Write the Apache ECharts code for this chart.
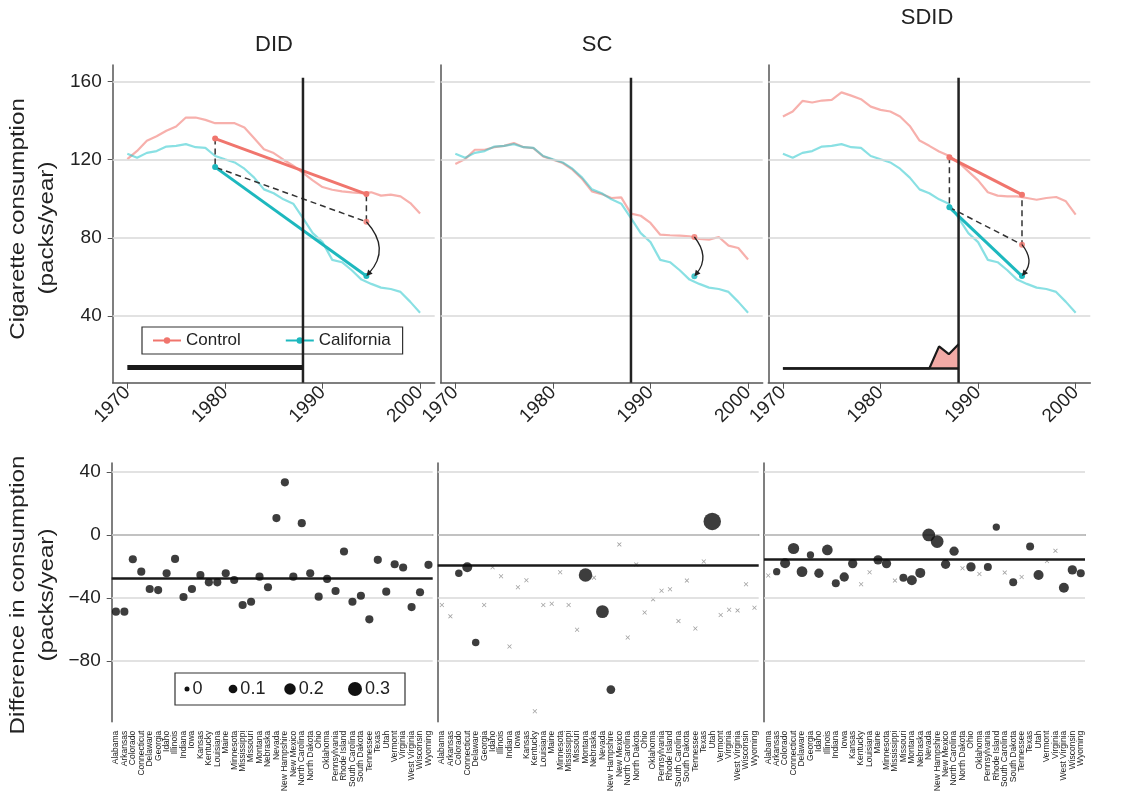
<!DOCTYPE html>
<html>
<head>
<meta charset="utf-8">
<script src="https://cdn.jsdelivr.net/npm/echarts@6/dist/echarts.min.js"></script>
<style>
html, body { margin: 0; background: #fff; }
#chart { width: 1121px; height: 807px; }
</style>
</head>
<body>
<div id="chart"></div>
<script>
// ---- top row: yearly consumption ----
var years = [1970, 1971, 1972, 1973, 1974, 1975, 1976, 1977, 1978, 1979, 1980, 1981, 1982, 1983, 1984, 1985,
  1986, 1987, 1988, 1989, 1990, 1991, 1992, 1993, 1994, 1995, 1996, 1997, 1998, 1999, 2000];
var california = [123, 121, 123.5, 124.4, 126.7, 127.1, 128, 126.4, 126.1, 121.9, 120.2, 118.6, 115.4, 110.8, 104.8, 102.8,
  99.7, 97.5, 90.1, 82.4, 77.8, 68.7, 67.5, 63.4, 58.6, 56.4, 54.5, 53.8, 52.3, 47.2, 41.6];
var didControl = [120.3, 124.5, 129.7, 132, 134.8, 137, 141.6, 141.6, 140.4, 138.7, 138.7, 138.7, 136.5, 131, 125.4, 123.4,
  120, 116.9, 113.2, 109.4, 106, 104.6, 103.8, 103.3, 102.9, 103.3, 101.6, 102.1, 101.2, 97.8, 92.4];
var scControl = [117.8, 120.3, 125.1, 125.1, 126.4, 127.1, 128.5, 126.4, 125.9, 121.7, 120, 118.3, 114.9, 110.1, 103.8, 102.4,
  100.4, 100.7, 92.4, 91.3, 87.6, 81.6, 81.3, 81.1, 80.8, 79.4, 79.1, 80.4, 76, 74.8, 68.9];
var sdidControl = [142.1, 144.7, 150.1, 149.3, 150.3, 150.6, 154.5, 152.8, 151, 147.2, 145.5, 144.7, 142.1, 137.3, 129.8, 127.1,
  124.2, 122, 118.6, 114, 109.4, 103.3, 101.6, 101.2, 101.2, 100.4, 99.5, 100.4, 100.9, 98.7, 91.9];

var treatYear = 1988;
// [time of pre mean, time of post mean]
var didTimes = [1979, 1994.5];
var sdidTimes = [1987.06, 1994.5];
// [pre, post] averages; cf = counterfactual
var didCtrlMean = [130.8, 102.4], didCaliMean = [116.2, 60.4], didCf = 88.2;
var scCtrlPost = 80.4, scCaliPost = 60.3;
var sdidCtrlMean = [121.2, 102.1], sdidCaliMean = [95.6, 60.4], sdidCf = 76.5;
// time-weight strips drawn along the bottom
var didTimeBar = [[1970, 13.6], [1988, 13.6]];
var sdidTimeBase = 13.1;
var sdidTimeYears = [1970, 1985, 1986, 1987, 1988];
var sdidTimeVals = [13.1, 13.1, 24.4, 20.4, 25.5];

// ---- bottom row: per-state differences ----
var states = ['Alabama', 'Arkansas', 'Colorado', 'Connecticut', 'Delaware', 'Georgia', 'Idaho', 'Illinois', 'Indiana',
  'Iowa', 'Kansas', 'Kentucky', 'Louisiana', 'Maine', 'Minnesota', 'Mississippi', 'Missouri', 'Montana', 'Nebraska',
  'Nevada', 'New Hampshire', 'New Mexico', 'North Carolina', 'North Dakota', 'Ohio', 'Oklahoma', 'Pennsylvania',
  'Rhode Island', 'South Carolina', 'South Dakota', 'Tennessee', 'Texas', 'Utah', 'Vermont', 'Virginia',
  'West Virginia', 'Wisconsin', 'Wyoming'];
var didDiff = [-48.7, -48.7, -15.4, -23.3, -34.3, -35, -24.3, -15.2, -39.4, -34.3, -25.4, -30.1, -30.1, -24.3, -28.6,
  -44.5, -42.4, -26.5, -33.2, 10.7, 33.4, -26.5, 7.5, -24.3, -39.2, -27.9, -35.6, -10.5, -42.4, -38.6, -53.6, -15.8,
  -36, -18.6, -20.7, -45.8, -36.4, -19];
var didW = [0.08, 0.08, 0.08, 0.08, 0.08, 0.08, 0.08, 0.08, 0.08, 0.08, 0.08, 0.08, 0.08, 0.08, 0.08, 0.08, 0.08,
  0.08, 0.08, 0.08, 0.08, 0.08, 0.08, 0.08, 0.08, 0.08, 0.08, 0.08, 0.08, 0.08, 0.08, 0.08, 0.08, 0.08, 0.08, 0.08,
  0.08, 0.08];
var scDiff = [-44.5, -51.7, -24.3, -20.5, -68.3, -44.5, -20.5, -26.2, -70.8, -33.2, -28.8, -112, -44.5, -43.7, -23.7,
  -44.5, -60.2, -25.4, -27.1, -48.7, -98.2, -6, -65.1, -18.7, -49.2, -40.9, -35.4, -34.5, -54.7, -29, -59.4, -16.9,
  8.6, -50.8, -47.5, -47.9, -31.3, -46.2];
var scW = [0, 0, 0.06, 0.14, 0.06, 0, 0, 0, 0, 0, 0, 0, 0, 0, 0, 0, 0, 0.28, 0, 0.25, 0.1, 0, 0, 0, 0, 0, 0, 0, 0, 0,
  0, 0, 0.45, 0, 0, 0, 0, 0];
var sdidDiff = [-25.8, -23.3, -18, -8.6, -23.3, -12.7, -24.3, -9.5, -30.7, -26.7, -18.2, -31.3, -23.7, -15.8, -18.2,
  -29, -27.1, -28.8, -24.1, 0, -4.2, -18.6, -10.3, -21.1, -20.3, -24.8, -20.3, 5, -23.9, -30.1, -26.7, -7.3, -25.4,
  -16.5, -10.1, -33.5, -22.2, -24.3];
var sdidW = [0, 0.055, 0.144, 0.19, 0.17, 0.055, 0.12, 0.17, 0.076, 0.12, 0.12, 0, 0, 0.12, 0.12, 0, 0.076, 0.144,
  0.144, 0.25, 0.25, 0.12, 0.12, 0, 0.12, 0, 0.076, 0.055, 0, 0.076, 0, 0.076, 0.144, 0, 0, 0.144, 0.12, 0.076];
var estimates = [-27.5, -19.4, -15.4];
var legendWeights = [0, 0.1, 0.2, 0.3];

var topTicks = [40, 80, 120, 160];
var botTicks = [-80, -40, 0, 40];
var yearTicks = [1970, 1980, 1990, 2000];

var RED = '#f0756d', CYAN = '#1db8be';
var RED_L = 'rgba(240,112,104,0.55)', CYAN_L = 'rgba(40,198,204,0.55)';
var FONT = 'Liberation Sans, Arial, sans-serif';

function pairs(xs, ys) { return xs.map(function (x, i) { return [x, ys[i]]; }); }
function dotSize(w) { return 5 + 9 * Math.pow(w / 0.3, 0.8); }
function minus(v) { return v < 0 ? '\u2212' + Math.abs(v) : String(v); }

var chart = echarts.init(document.getElementById('chart'));

var topLeft = [112.7, 440.7, 768.3];
var botLeft = [111.7, 437.7, 764];
var grids = [], xAxes = [], yAxes = [], series = [];

topLeft.forEach(function (l, i) {
  grids.push({ left: l, top: 65, width: 322, height: 317.7 });
  xAxes.push({
    gridIndex: i, type: 'value', min: 1968.5, max: 2001.5,
    axisLine: { lineStyle: { color: '#555', width: 1.5 } },
    axisTick: { length: 6, lineStyle: { color: '#555' }, customValues: yearTicks },
    axisLabel: { rotate: 45, fontSize: 19, color: '#222', fontFamily: FONT, margin: 7, customValues: yearTicks,
      formatter: function (v) { return String(v); } },
    splitLine: { show: false }
  });
  yAxes.push({
    gridIndex: i, type: 'value', min: 5.8, max: 168.5,
    axisLine: { show: true, lineStyle: { color: '#555', width: 1.5 } },
    axisTick: { show: i === 0, length: 5, lineStyle: { color: '#555' }, customValues: topTicks },
    axisLabel: { show: i === 0, fontSize: 19, color: '#222', fontFamily: FONT, margin: 11, customValues: topTicks },
    splitLine: { show: false }
  });
});
botLeft.forEach(function (l, i) {
  grids.push({ left: l, top: 463, width: 321, height: 258.7 });
  xAxes.push({
    gridIndex: 3 + i, type: 'category', data: states, boundaryGap: true,
    axisLine: { lineStyle: { color: '#555', width: 1.5 } },
    axisTick: { alignWithLabel: true, length: 5, lineStyle: { color: '#555' } },
    axisLabel: { rotate: 90, interval: 0, fontSize: 8.5, color: '#222', fontFamily: FONT, margin: 9 },
    splitLine: { show: false }
  });
  yAxes.push({
    gridIndex: 3 + i, type: 'value', min: -118.6, max: 45.7,
    axisLine: { show: true, lineStyle: { color: '#555', width: 1.5 } },
    axisTick: { show: i === 0, length: 5, lineStyle: { color: '#555' }, customValues: botTicks },
    axisLabel: { show: i === 0, fontSize: 19, color: '#222', fontFamily: FONT, margin: 11,
      customValues: botTicks, formatter: minus },
    splitLine: { show: false }
  });
});

function gridLineSeries(idx, vals) {
  return {
    type: 'line', xAxisIndex: idx, yAxisIndex: idx, data: [], z: 1, silent: true, symbol: 'none',
    markLine: {
      silent: true, symbol: 'none', label: { show: false },
      lineStyle: { color: '#d9d9d9', width: 1.5, type: 'solid' },
      data: vals.map(function (v) { return { yAxis: v }; })
    }
  };
}
function lightLine(idx, ys, color) {
  return {
    type: 'line', xAxisIndex: idx, yAxisIndex: idx, data: pairs(years, ys), symbol: 'none', z: 2,
    lineStyle: { color: color, width: 2.2 }, silent: true
  };
}
// curved arrow from counterfactual down to the observed post mean
function arrow(idx, x, from, to, bulge) {
  return {
    type: 'custom', xAxisIndex: idx, yAxisIndex: idx, z: 8, silent: true,
    data: [[x, from, to]],
    renderItem: function (params, api) {
      var p1 = api.coord([api.value(0), api.value(1)]);
      var p2 = api.coord([api.value(0), api.value(2)]);
      var len = p2[1] - p1[1];
      var cx = p1[0] + bulge * len, cy = (p1[1] + p2[1]) / 2;
      var tx = p2[0] - cx, ty = p2[1] - cy, tl = Math.sqrt(tx * tx + ty * ty);
      tx /= tl; ty /= tl;
      var h = 6, w = 3;
      var bx = p2[0] - tx * h, by = p2[1] - ty * h;
      return {
        type: 'group', children: [{
          type: 'bezierCurve',
          shape: { x1: p1[0], y1: p1[1], x2: p2[0] - tx * 4, y2: p2[1] - ty * 4, cpx1: cx, cpy1: cy },
          style: { stroke: '#222', lineWidth: 1.3, fill: null }
        }, {
          type: 'polygon',
          shape: { points: [[p2[0], p2[1]], [bx - ty * w, by + tx * w], [bx + ty * w, by - tx * w]] },
          style: { fill: '#222' }
        }]
      };
    }
  };
}
function vline(idx) {
  return {
    type: 'line', xAxisIndex: idx, yAxisIndex: idx, data: [[treatYear, 5.8], [treatYear, 162]],
    symbol: 'none', z: 6, silent: true, lineStyle: { color: '#222', width: 2.5 }
  };
}
function segment(idx, name, pts, color) {
  return {
    type: 'line', name: name, xAxisIndex: idx, yAxisIndex: idx, data: pts, z: 5,
    symbol: 'circle', symbolSize: 6, itemStyle: { color: color }, lineStyle: { color: color, width: 3 }
  };
}
function dashed(idx, pts) {
  return {
    type: 'line', xAxisIndex: idx, yAxisIndex: idx, data: pts, z: 5, symbol: 'none', silent: true,
    lineStyle: { color: '#333', width: 1.5, type: [6, 4] }
  };
}
function dots(idx, pts, color) {
  return {
    type: 'scatter', xAxisIndex: idx, yAxisIndex: idx, data: pts, z: 7, symbolSize: 6,
    itemStyle: { color: color }, silent: true
  };
}

// DID top
series.push(gridLineSeries(0, topTicks));
series.push(lightLine(0, didControl, RED_L));
series.push(lightLine(0, california, CYAN_L));
series.push(vline(0));
series.push(segment(0, 'Control', pairs(didTimes, didCtrlMean), RED));
series.push(segment(0, 'California', pairs(didTimes, didCaliMean), CYAN));
series.push(dashed(0, [[didTimes[0], didCtrlMean[0]], [didTimes[0], didCaliMean[0]],
  [didTimes[1], didCf], [didTimes[1], didCtrlMean[1]]]));
series.push(dots(0, [[didTimes[1], didCf]], RED));
series.push(arrow(0, didTimes[1], didCf, didCaliMean[1], 0.45));
series.push({
  type: 'line', xAxisIndex: 0, yAxisIndex: 0, data: didTimeBar, symbol: 'none', z: 6, silent: true,
  lineStyle: { color: '#1a1a1a', width: 5 }
});

// SC top
series.push(gridLineSeries(1, topTicks));
series.push(lightLine(1, scControl, RED_L));
series.push(lightLine(1, california, CYAN_L));
series.push(vline(1));
series.push(dots(1, [[didTimes[1], scCtrlPost]], RED));
series.push(dots(1, [[didTimes[1], scCaliPost]], CYAN));
series.push(arrow(1, didTimes[1], scCtrlPost, scCaliPost, 0.4));

// SDID top
series.push(gridLineSeries(2, topTicks));
series.push(lightLine(2, sdidControl, RED_L));
series.push(lightLine(2, california, CYAN_L));
series.push(vline(2));
series.push(segment(2, 'Control SDID', pairs(sdidTimes, sdidCtrlMean), RED));
series.push(segment(2, 'California SDID', pairs(sdidTimes, sdidCaliMean), CYAN));
series.push(dashed(2, [[sdidTimes[0], sdidCtrlMean[0]], [sdidTimes[0], sdidCaliMean[0]],
  [sdidTimes[1], sdidCf], [sdidTimes[1], sdidCtrlMean[1]]]));
series.push(dots(2, [[sdidTimes[1], sdidCf]], RED));
series.push(arrow(2, sdidTimes[1], sdidCf, sdidCaliMean[1], 0.4));
series.push({
  type: 'line', xAxisIndex: 2, yAxisIndex: 2, data: pairs(sdidTimeYears, sdidTimeVals), symbol: 'none',
  z: 6, silent: true, lineStyle: { color: '#1a1a1a', width: 2.2 },
  areaStyle: { color: '#f2aaa6', opacity: 1, origin: sdidTimeBase }
});
series.push({
  type: 'line', xAxisIndex: 2, yAxisIndex: 2, data: [[1970, sdidTimeBase], [treatYear, sdidTimeBase]],
  symbol: 'none', z: 6, silent: true, lineStyle: { color: '#1a1a1a', width: 2.6 }
});

// bottom panels
var CROSS = 'path://M0,1.2L1.2,0L5,3.8L8.8,0L10,1.2L6.2,5L10,8.8L8.8,10L5,6.2L1.2,10L0,8.8L3.8,5Z';
[[didDiff, didW], [scDiff, scW], [sdidDiff, sdidW]].forEach(function (d, i) {
  var idx = 3 + i, big = [], zero = [];
  d[0].forEach(function (v, k) {
    if (d[1][k] > 0) big.push([k, v, d[1][k]]); else zero.push([k, v]);
  });
  series.push(gridLineSeries(idx, botTicks));
  series.push({
    type: 'scatter', xAxisIndex: idx, yAxisIndex: idx, data: zero, symbol: CROSS, symbolSize: 4.5,
    itemStyle: { color: '#8a8a8a' }, z: 3, silent: true
  });
  series.push({
    type: 'line', xAxisIndex: idx, yAxisIndex: idx, data: [], z: 4, silent: true, symbol: 'none',
    markLine: {
      silent: true, symbol: 'none', label: { show: false },
      lineStyle: { color: '#1a1a1a', width: 2.5, type: 'solid' }, data: [{ yAxis: estimates[i] }]
    }
  });
  series.push({
    type: 'scatter', xAxisIndex: idx, yAxisIndex: idx, data: big, z: 5, silent: true,
    symbolSize: function (v) { return dotSize(v[2]); }, itemStyle: { color: '#0d0d0d' }
  });
});

// size legend (bottom DID)
var legendGfx = [{
  type: 'rect', shape: { x: 175, y: 673, width: 230, height: 32 },
  style: { fill: '#fff', stroke: '#333', lineWidth: 1.2 }
}];
var lgX = [187, 233, 290, 355];
legendWeights.forEach(function (w, k) {
  var r = dotSize(w) / 2;
  legendGfx.push({ type: 'circle', shape: { cx: lgX[k], cy: 689, r: r }, style: { fill: '#111' } });
  legendGfx.push({
    type: 'text', x: lgX[k] + r + 3, y: 689,
    style: { text: String(w), font: '18px ' + FONT, fill: '#222', textVerticalAlign: 'middle', verticalAlign: 'middle' }
  });
});

function label(text, x, y, size, rot, sx) {
  return {
    type: 'text', x: x, y: y, rotation: rot || 0, scaleX: sx || 1,
    style: {
      text: text, font: size + 'px ' + FONT, fill: '#222',
      textAlign: 'center', textVerticalAlign: 'middle', align: 'center', verticalAlign: 'middle'
    }
  };
}

var option = {
  animation: false,
  backgroundColor: '#fff',
  grid: grids,
  xAxis: xAxes,
  yAxis: yAxes,
  legend: {
    data: ['Control', 'California'], left: 142, top: 327,
    padding: [5, 12, 5, 10], itemGap: 44, itemWidth: 28, itemHeight: 8,
    borderColor: '#333', borderWidth: 1.2, backgroundColor: '#fff', selectedMode: false,
    textStyle: { fontSize: 17, color: '#222', fontFamily: FONT }
  },
  graphic: legendGfx.concat([
    label('DID', 274, 45, 22),
    label('SC', 597, 45, 22),
    label('SDID', 927, 18, 22),
    label('Cigarette consumption', 18, 219, 21, Math.PI / 2, 1.15),
    label('(packs/year)', 47, 228, 21, Math.PI / 2, 1.15),
    label('Difference in consumption', 18, 595, 21, Math.PI / 2, 1.15),
    label('(packs/year)', 47, 595, 21, Math.PI / 2, 1.15)
  ]),
  series: series
};
chart.setOption(option);
</script>
</body>
</html>
